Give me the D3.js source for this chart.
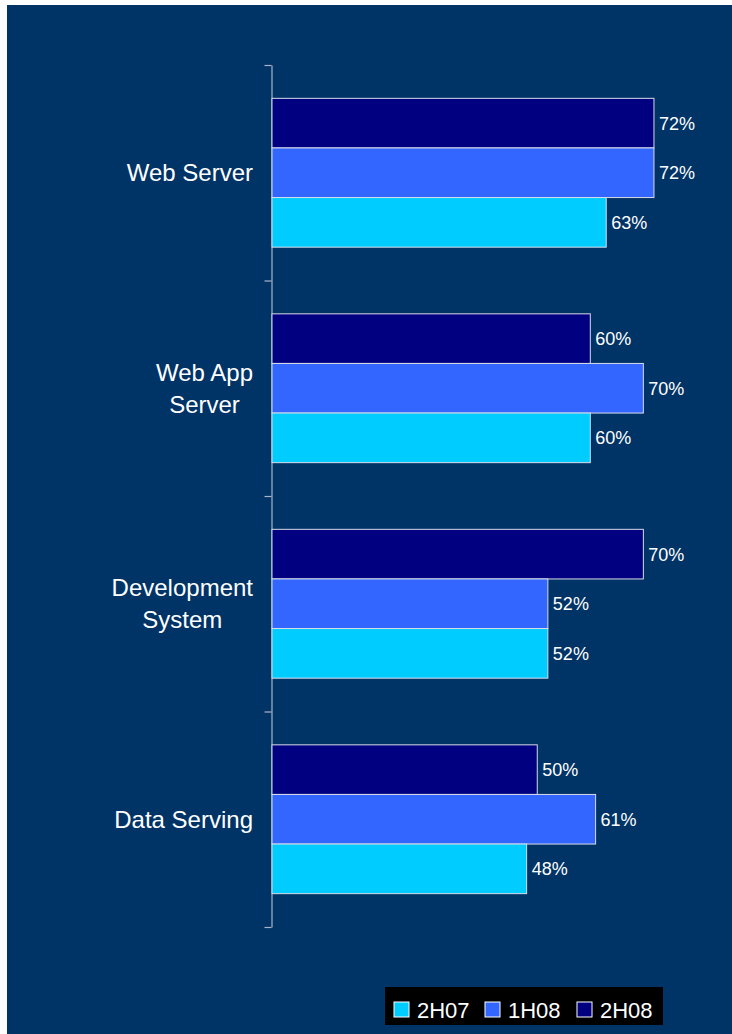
<!DOCTYPE html>
<html>
<head>
<meta charset="utf-8">
<script src="https://cdn.jsdelivr.net/npm/d3@7"></script>
<style>
  html, body { margin: 0; padding: 0; background: #fff; }
  svg { display: block; }
  text { font-family: "Liberation Sans", Arial, sans-serif; fill: #fff; }
</style>
</head>
<body>
<script>
'use strict';

var categories = ["Web Server", "Web App\nServer", "Development\nSystem", "Data Serving"];
var seriesNames = ["2H08", "1H08", "2H07"];          // top to bottom inside a group
var legendOrder = ["2H07", "1H08", "2H08"];
var seriesColors = {"2H07": "#00ccff", "1H08": "#3366ff", "2H08": "#000080"};
var values2H08 = [72, 60, 70, 50];
var values1H08 = [72, 70, 52, 61];
var values2H07 = [63, 60, 52, 48];

var W = 732, H = 1034;

var svg = d3.select("body").append("svg")
    .attr("width", W).attr("height", H);

// dark blue slide background
svg.append("rect")
    .attr("x", 7).attr("y", 5)
    .attr("width", W - 7).attr("height", H - 5)
    .attr("fill", "#003366");

var plot = {left: 272, top: 65, bottom: 927};

var xScale = d3.scaleLinear().domain([0, 100]).range([plot.left, plot.left + 530.5]);
var yScale = d3.scaleBand().domain(categories).range([plot.top, plot.bottom]).paddingInner(0);
var inner  = d3.scaleBand().domain(seriesNames).range([0, yScale.bandwidth()])
    .paddingInner(0).paddingOuter(0.672);

var data = {"2H08": values2H08, "1H08": values1H08, "2H07": values2H07};

// axis with ticks on the band boundaries
var tickScale = d3.scaleLinear().domain([0, categories.length]).range([plot.top, plot.bottom]);
var axis = svg.append("g")
    .attr("transform", "translate(" + (plot.left - 0.5) + ",0)")
    .call(d3.axisLeft(tickScale)
        .tickValues(d3.range(categories.length + 1))
        .tickFormat("")
        .tickSize(7)
        .tickSizeOuter(0));
axis.selectAll("path, line").attr("stroke", "#aab4c8").attr("stroke-width", 1.2);

// bars
categories.forEach(function(c, ci) {
    var g = svg.append("g").attr("transform", "translate(0," + yScale(c) + ")");
    seriesNames.forEach(function(s) {
        var v = data[s][ci];
        g.append("rect")
            .attr("x", xScale(0))
            .attr("y", inner(s))
            .attr("width", xScale(v) - xScale(0))
            .attr("height", inner.bandwidth())
            .attr("fill", seriesColors[s])
            .attr("stroke", "#d8dce8")
            .attr("stroke-width", 1);
        g.append("text")
            .attr("x", xScale(v) + 5)
            .attr("y", inner(s) + inner.bandwidth() / 2)
            .attr("dy", "0.36em")
            .style("font-size", "18px")
            .text(v + "%");
    });
});

// category labels: block right-aligned at 253, lines centred within it
categories.forEach(function(c) {
    var lines = c.split("\n");
    var cy = yScale(c) + yScale.bandwidth() / 2;
    var t = svg.append("text")
        .attr("text-anchor", "middle")
        .style("font-size", "24px");
    var spans = lines.map(function(l, i) {
        return t.append("tspan")
            .attr("y", cy + (i - (lines.length - 1) / 2) * 32)
            .attr("dy", "0.36em")
            .text(l);
    });
    var maxW = d3.max(spans, function(sp) { return sp.node().getComputedTextLength(); });
    spans.forEach(function(sp) { sp.attr("x", 253 - maxW / 2); });
});

// legend
var legend = svg.append("g").attr("transform", "translate(385,987)");
legend.append("rect").attr("width", 278).attr("height", 38).attr("fill", "#000");
var legendX = [9, 100, 192];
legendOrder.forEach(function(s, i) {
    var it = legend.append("g").attr("transform", "translate(" + legendX[i] + ",0)");
    it.append("rect")
        .attr("x", 0).attr("y", 15)
        .attr("width", 15).attr("height", 15)
        .attr("fill", seriesColors[s])
        .attr("stroke", "#fff").attr("stroke-width", 1);
    it.append("text")
        .attr("x", 23).attr("y", 31)
        .style("font-size", "22px")
        .text(s);
});
</script>
</body>
</html>
